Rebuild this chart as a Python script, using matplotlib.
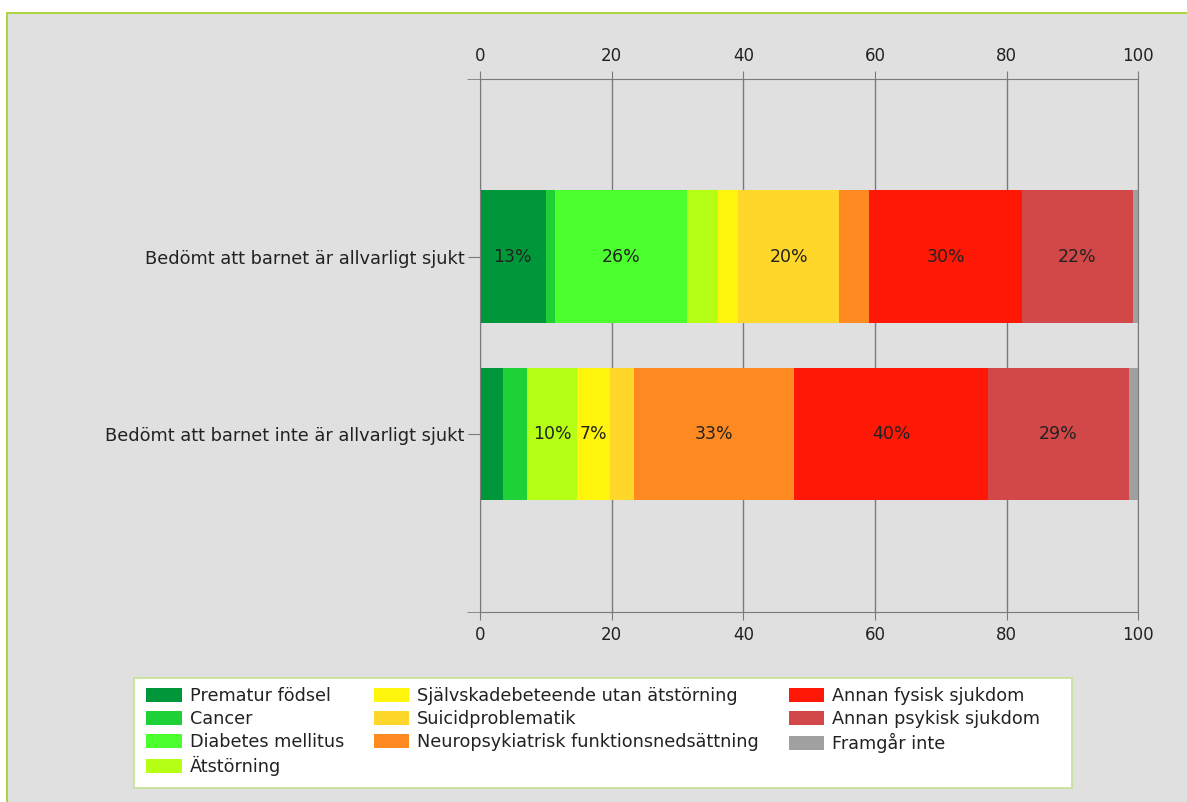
import matplotlib
matplotlib.use('Agg')
from matplotlib import pyplot as plt
from matplotlib.patches import Rectangle, Patch

# kategorier (y-axeln), uppifrån och ned
categories = ['Bedömt att barnet är allvarligt sjukt',
              'Bedömt att barnet inte är allvarligt sjukt']

series = ['Prematur födsel', 'Cancer', 'Diabetes mellitus', 'Ätstörning',
          'Självskadebeteende utan ätstörning', 'Suicidproblematik',
          'Neuropsykiatrisk funktionsnedsättning', 'Annan fysisk sjukdom',
          'Annan psykisk sjukdom', 'Framgår inte']

# andel av stapeln (0-100), [allvarligt sjukt, inte allvarligt sjukt]
prematur = [10.0, 3.5]
cancer = [1.4, 3.7]
diabetes = [20.1, 0.0]
atstorning = [4.65, 7.5]
sjalvskada = [3.05, 5.1]
suicid = [15.35, 3.65]
neuro = [4.6, 24.25]
fysisk = [23.15, 29.5]
psykisk = [16.9, 21.35]
framgar = [0.8, 1.45]

# etiketter som visas i segmenten
lab_prematur = ['13%', '']
lab_cancer = ['', '']
lab_diabetes = ['26%', '']
lab_atstorning = ['', '10%']
lab_sjalvskada = ['', '7%']
lab_suicid = ['20%', '']
lab_neuro = ['', '33%']
lab_fysisk = ['30%', '40%']
lab_psykisk = ['22%', '29%']
lab_framgar = ['', '']

values = [prematur, cancer, diabetes, atstorning, sjalvskada, suicid,
          neuro, fysisk, psykisk, framgar]
labels = [lab_prematur, lab_cancer, lab_diabetes, lab_atstorning,
          lab_sjalvskada, lab_suicid, lab_neuro, lab_fysisk, lab_psykisk,
          lab_framgar]
colors = ['#00963a', '#1ed136', '#4cff2e', '#b5ff14', '#fff50c',
          '#ffd72a', '#ff8a22', '#ff1805', '#d24848', '#a0a0a0']

ypos = [1, 0]
W, H = 1187, 802
fig = plt.figure(figsize=(W / 100, H / 100), dpi=100, facecolor='white')

# grå panel med grön kant
fig.patches.append(Rectangle((7 / W, -0.05), 1.1, 1 - 13 / H + 0.05,
                             transform=fig.transFigure, facecolor='#e0e0e0',
                             edgecolor='#a6d22e', lw=1.3, zorder=-5))

ax = fig.add_axes([480 / W, 190.3 / H, 658.3 / W, 532.7 / H])
ax.set_facecolor('none')

left = [0, 0]
for vals, labs, col, name in zip(values, labels, colors, series):
    bars = ax.barh(ypos, vals, left=left, height=0.745, color=col,
                   label=name, zorder=3)
    ax.bar_label(bars, labels=labs, label_type='center', fontsize=12.5,
                 color='#222222')
    left = [l + v for l, v in zip(left, vals)]

ax.set_xlim(0, 100)
ax.set_ylim(-1, 2)
ax.set_xticks([0, 20, 40, 60, 80, 100])
ax.grid(axis='x', color='#7a7a7a', lw=1, zorder=1)
ax.set_yticks(ypos)
ax.set_yticklabels(categories)
ax.set_yticks([-1, 2], minor=True)

for s in ['top', 'bottom', 'left', 'right']:
    ax.spines[s].set_color('#7a7a7a')
    ax.spines[s].set_zorder(4)

ax.tick_params(axis='x', top=True, labeltop=True, direction='out',
               length=6, color='#7a7a7a', labelsize=12, labelcolor='#222222',
               pad=4)
ax.tick_params(axis='y', which='major', length=9, color='#7a7a7a',
               labelsize=12.8, labelcolor='#222222', pad=2)
ax.tick_params(axis='y', which='minor', length=9.5, color='#7a7a7a')

# legend med egen ram
fig.patches.append(Rectangle((134 / W, 1 - 788 / H), 938 / W, 110 / H,
                             transform=fig.transFigure, facecolor='white',
                             edgecolor='#c6e39b', lw=1.3, zorder=1))
handles = [Patch(facecolor=c, edgecolor='none') for c in colors]
fig.legend(handles, series, loc='upper left',
           bbox_to_anchor=(141 / W, 1 - 682 / H), ncol=3, frameon=False,
           fontsize=12.7, handlelength=2.0, handleheight=0.85,
           handletextpad=0.45, columnspacing=1.7, labelspacing=0.28,
           borderpad=0.3, borderaxespad=0, labelcolor='#222222')

plt.savefig('out.png', dpi=100, facecolor=fig.get_facecolor())
